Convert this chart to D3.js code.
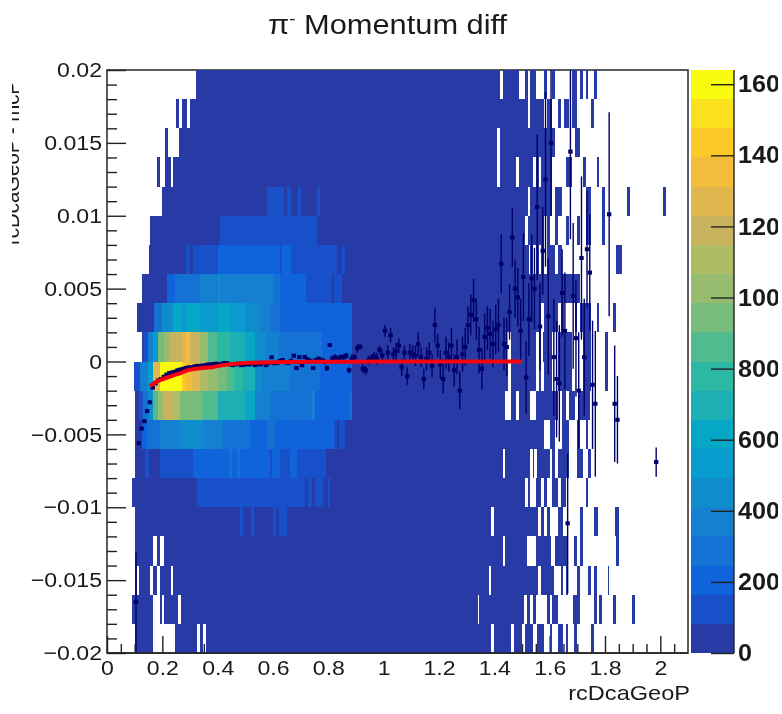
<!DOCTYPE html>
<html>
<head>
<meta charset="utf-8">
<script src="https://cdnjs.cloudflare.com/ajax/libs/d3/7.8.5/d3.min.js"></script>
<style>
  body { margin: 0; background: #fff; }
  text { font-family: "Liberation Sans", Arial, sans-serif; fill: #1a1a1a; }
</style>
</head>
<body>
<div id="chart"></div>
<script>
// tick values and labels
var xTicks = [0, 0.2, 0.4, 0.6, 0.8, 1, 1.2, 1.4, 1.6, 1.8, 2];
var xTickLabels = ["0", "0.2", "0.4", "0.6", "0.8", "1", "1.2", "1.4", "1.6", "1.8", "2"];
var xMinor = [0.05, 0.1, 0.15, 0.25, 0.3, 0.35, 0.45, 0.5, 0.55, 0.65, 0.7, 0.75, 0.85, 0.9, 0.95, 1.05, 1.1, 1.15, 1.25, 1.3, 1.35, 1.45, 1.5, 1.55, 1.65, 1.7, 1.75, 1.85, 1.9, 1.95, 2.05];
var yTicks = [0.02, 0.015, 0.01, 0.005, 0, -0.005, -0.01, -0.015, -0.02];
var yTickLabels = ["0.02", "0.015", "0.01", "0.005", "0", "\u22120.005", "\u22120.01", "\u22120.015", "\u22120.02"];
var yMinor = [0.019, 0.018, 0.017, 0.016, 0.014, 0.013, 0.012, 0.011, 0.009, 0.008, 0.007, 0.006, 0.004, 0.003, 0.002, 0.001,
  -0.001, -0.002, -0.003, -0.004, -0.006, -0.007, -0.008, -0.009, -0.011, -0.012, -0.013, -0.014, -0.016, -0.017, -0.018, -0.019];
var zTicks = [0, 200, 400, 600, 800, 1000, 1200, 1400, 1600];

// top edge of each y bin, row by row from the top
var rowTop = [0.02, 0.018, 0.016, 0.014, 0.012, 0.01, 0.008, 0.006, 0.004, 0.002, 0, -0.002, -0.004, -0.006, -0.008, -0.01, -0.012, -0.014, -0.016, -0.018];

// each row: [xStart, xEnd, count] runs, later runs paint over earlier ones
var row0 = [[0.32,1.42,40],[1.43,1.49,40],[1.51,1.52,40],[1.53,1.55,40],[1.58,1.59,40],[1.61,1.62,40],[1.68,1.70,40],[1.71,1.72,40],[1.73,1.74,40],[1.76,1.77,40]];
var row1 = [[0.25,0.26,40],[0.27,0.29,40],[0.30,1.52,40],[1.53,1.58,40],[1.59,1.61,40],[1.63,1.64,40],[1.65,1.67,40],[1.68,1.70,40],[1.75,1.76,40]];
var row2 = [[0.21,0.22,40],[0.26,1.41,40],[1.42,1.62,40],[1.69,1.71,40]];
var row3 = [[0.18,0.19,40],[0.21,0.23,40],[0.24,1.41,40],[1.42,1.48,40],[1.49,1.54,40],[1.55,1.56,40],[1.57,1.61,40],[1.66,1.68,40],[1.72,1.73,40],[1.77,1.78,40]];
var row4 = [[0.20,1.52,40],[1.53,1.61,40],[1.62,1.645,40],[1.73,1.75,40],[1.79,1.80,40],[1.88,1.89,40],[2.01,2.02,40],
  [0.58,0.64,120],[0.65,0.665,120],[0.69,0.70,120],[0.76,0.77,120]];
var row5 = [[0.155,1.51,40],[1.52,1.58,40],[1.59,1.60,40],[1.62,1.63,40],[1.66,1.67,40],[1.70,1.71,40],[1.73,1.75,40],[1.79,1.80,40],
  [0.41,0.76,120]];
var row6 = [[0.15,1.525,40],[1.53,1.54,40],[1.55,1.56,40],[1.57,1.58,40],[1.59,1.62,40],[1.63,1.645,40],[1.84,1.86,40],
  [0.285,0.30,120],[0.31,0.40,120],[0.40,0.625,205],[0.625,0.632,120],[0.632,0.665,205],[0.665,0.83,120],[0.85,0.86,120]];
var row7 = [[0.128,1.71,40],
  [0.216,0.246,205],[0.246,0.265,290],[0.265,0.336,290],[0.336,0.60,370],[0.40,0.41,450],[0.60,0.625,290],[0.625,0.72,205],[0.72,0.812,120],[0.82,0.85,120]];
var row8 = [[0.11,1.57,40],[1.58,1.63,40],[1.64,1.65,40],[1.69,1.70,40],[1.71,1.75,40],[1.77,1.78,40],[1.83,1.84,40],
  [0.17,0.198,290],[0.198,0.24,450],[0.24,0.27,615],[0.27,0.29,535],[0.29,0.336,615],[0.336,0.40,535],[0.40,0.445,615],[0.445,0.50,535],[0.50,0.553,450],[0.553,0.59,370],[0.59,0.625,290],[0.625,0.73,205],[0.73,0.885,205]];
var row9 = [[0.128,1.445,40],[1.46,1.55,40],[1.56,1.57,40],[1.575,1.61,40],[1.63,1.68,40],[1.72,1.75,40],[1.80,1.81,40],
  [0.129,0.149,120],[0.149,0.168,370],[0.168,0.186,535],[0.186,0.205,945],[0.205,0.228,1060],[0.228,0.27,1190],[0.27,0.286,1230],[0.286,0.30,1350],[0.30,0.336,1150],[0.336,0.366,1030],[0.366,0.397,860],[0.397,0.445,740],[0.445,0.50,700],[0.50,0.535,615],[0.535,0.571,450],[0.571,0.62,370],[0.62,0.776,290],[0.776,0.885,205]];
var row10 = [[0.10,1.45,40],[1.46,1.55,40],[1.56,1.57,40],[1.58,1.61,40],[1.63,1.68,40],[1.72,1.75,40],[1.80,1.81,40],
  [0.099,0.119,120],[0.119,0.149,370],[0.149,0.168,535],[0.168,0.192,1230],[0.192,0.27,1600],[0.27,0.282,1435],[0.282,0.306,1350],[0.306,0.336,1270],[0.336,0.366,1110],[0.366,0.40,1000],[0.40,0.433,945],[0.433,0.46,860],[0.46,0.493,780],[0.493,0.535,700],[0.535,0.56,450],[0.56,0.66,370],[0.66,0.77,290],[0.77,0.885,205]];
var row11 = [[0.10,1.44,40],[1.46,1.48,40],[1.49,1.53,40],[1.55,1.63,40],[1.645,1.66,40],[1.67,1.69,40],[1.705,1.745,40],
  [0.115,0.129,120],[0.129,0.149,290],[0.149,0.168,450],[0.168,0.185,860],[0.185,0.204,1025],[0.204,0.24,1190],[0.24,0.264,1110],[0.264,0.342,945],[0.342,0.40,820],[0.40,0.50,700],[0.50,0.535,615],[0.535,0.59,370],[0.59,0.74,290],[0.74,0.75,370],[0.75,0.873,205],[0.873,0.885,290]];
var row12 = [[0.10,1.58,40],[1.60,1.62,40],[1.645,1.67,40],[1.70,1.71,40],[1.73,1.74,40],
  [0.128,0.144,205],[0.144,0.19,290],[0.19,0.265,370],[0.265,0.35,450],[0.35,0.42,370],[0.42,0.517,290],[0.517,0.577,205],[0.577,0.607,290],[0.607,0.82,205],[0.82,0.83,120],[0.84,0.86,120]];
var row13 = [[0.10,1.43,40],[1.44,1.53,40],[1.54,1.545,40],[1.555,1.60,40],[1.61,1.62,40],[1.63,1.67,40],[1.70,1.72,40],[1.74,1.75,40],
  [0.137,0.15,120],[0.19,0.31,120],[0.31,0.59,205],[0.44,0.45,290],[0.47,0.48,290],[0.59,0.595,120],[0.595,0.625,205],[0.625,0.66,120],[0.66,0.685,205],[0.685,0.79,120]];
var row14 = [[0.09,1.51,40],[1.52,1.53,40],[1.55,1.57,40],[1.58,1.59,40],[1.61,1.63,40],[1.64,1.66,40],[1.73,1.74,40],
  [0.327,0.716,120],[0.728,0.74,120],[0.752,0.78,120],[0.798,0.807,120]];
var row15 = [[0.10,1.387,40],[1.397,1.557,40],[1.568,1.58,40],[1.59,1.60,40],[1.63,1.648,40],[1.71,1.72,40],[1.76,1.773,40],[1.837,1.85,40],
  [0.481,0.49,120],[0.52,0.53,120],[0.60,0.61,120],[0.622,0.65,120]];
var row16 = [[0.10,0.168,40],[0.18,0.19,40],[0.206,1.431,40],[1.437,1.517,40],[1.55,1.604,40],[1.62,1.668,40],[1.689,1.698,40],[1.71,1.72,40],[1.84,1.85,40]];
var row17 = [[0.10,0.11,40],[0.117,0.155,40],[0.168,0.18,40],[0.192,0.23,40],[0.24,1.381,40],[1.387,1.557,40],[1.568,1.617,40],[1.64,1.648,40],[1.66,1.668,40],[1.70,1.71,40],[1.74,1.75,40],[1.76,1.77,40],[1.81,1.815,40]];
var row18 = [[0.09,0.168,40],[0.192,0.20,40],[0.206,0.258,40],[0.268,1.34,40],[1.346,1.509,40],[1.517,1.53,40],[1.54,1.55,40],[1.59,1.60,40],[1.608,1.63,40],[1.686,1.708,40],[1.76,1.77,40],[1.78,1.79,40],[1.829,1.84,40],[1.897,1.907,40]];
var row19 = [[0.10,0.168,40],[0.246,0.327,40],[0.337,0.348,40],[0.358,1.387,40],[1.397,1.46,40],[1.472,1.50,40],[1.51,1.54,40],[1.556,1.58,40],[1.60,1.608,40],[1.63,1.648,40],[1.66,1.668,40],[1.689,1.698,40],[1.749,1.761,40]];

// profile points
var profX = [0.105,0.115,0.125,0.135,0.145,0.155,0.165,0.175,0.185,0.195,
  0.205,0.215,0.225,0.235,0.245,0.255,0.265,0.275,0.285,0.295,
  0.305,0.315,0.325,0.335,0.345,0.355,0.365,0.375,0.385,0.395,
  0.405,0.415,0.425,0.435,0.445,0.455,0.465,0.475,0.485,0.495,
  0.505,0.515,0.525,0.535,0.545,0.555,0.565,0.575,0.585,0.595,
  0.605,0.615,0.625,0.635,0.645,0.655,0.665,0.675,0.685,0.695,
  0.705,0.715,0.725,0.735,0.745,0.755,0.765,0.775,0.785,0.795,
  0.805,0.815,0.825,0.835,0.845,0.855,0.865,0.875,0.885,0.895,
  0.905,0.915,0.925,0.935,0.945,0.955,0.965,0.975,0.985,0.995,
  1.005,1.015,1.025,1.035,1.045,1.055,1.065,1.075,1.085,1.095,
  1.105,1.115,1.125,1.135,1.145,1.155,1.165,1.175,1.185,1.195,
  1.205,1.215,1.225,1.235,1.245,1.255,1.265,1.275,1.285,1.295,
  1.305,1.315,1.325,1.335,1.345,1.355,1.365,1.375,1.385,1.395,
  1.405,1.415,1.425,1.435,1.445,1.455,1.465,1.475,1.485,1.495,
  1.505,1.515,1.525,1.535,1.545,1.555,1.565,1.575,1.585,1.595,
  1.605,1.615,1.625,1.635,1.645,1.655,1.665,1.675,1.685,1.695,
  1.705,1.715,1.725,1.735,1.745,1.755,1.765,1.815,1.835,1.845,1.985];
var profMean = [-0.0165,-0.0056,-0.0046,-0.0041,-0.0034,-0.0028,-0.0018,-0.0015,-0.0013,-0.0012,
  -0.00105,-0.0009,-0.0008,-0.00075,-0.0007,-0.0006,-0.00055,-0.0005,-0.00045,-0.0004,
  -0.0004,-0.00035,-0.0003,-0.0003,-0.00028,-0.00025,-0.0002,-0.0002,-0.00018,-0.00015,
  -0.0002,-0.00015,-0.0001,-0.00012,-0.0002,-0.00025,-0.0002,-0.00015,-0.00025,-0.00022,
  -0.00018,-0.0002,-0.00012,-0.00025,-0.00015,-0.0002,-0.0001,-0.00025,-0.0001,0.00029,
  -0.00012,-0.0001,0.00005,0.0001,-0.00005,-0.0001,0.00005,0.0004,-0.00045,0.0003,
  -0.00026,0.0003,0.00015,0.00005,-0.00045,0.0001,0.0002,0.0001,0,-0.00045,
  0.00113,0.0002,0.0003,0.0002,0.0003,0.0003,0.0004,-0.0006,0.0002,0.0003,
  0.0009,0.001,-0.0005,-0.0006,0.0001,0.0002,0.00035,0.0002,0.0008,0.0004,
  0.0021,0.0006,0.0018,0.0005,0.0007,0.0011,-0.0004,0.0006,-0.001,0.0006,
  0.0005,0.0004,0.0012,0.0003,-0.0012,0.0002,0.0006,-0.0003,0.0025,0.0011,
  -0.0002,-0.0012,0.0006,0.0003,0.0011,-0.0006,0.0003,-0.002,0.0005,0.001,
  0.0025,0.0032,0.0042,0.0029,0.0008,-0.0005,0.0017,0.0023,0.0019,0.0012,
  0.0022,0.0025,0.0067,0.0012,0.001,0.0034,0.0085,0.005,0.0044,0.0021,
  0.0058,-0.0011,0.0029,0.0057,0.005,0.0106,0.0024,0.0076,0.0125,0.0031,
  0.015,0.0003,-0.0012,-0.0015,0.0047,0.0021,-0.0111,0.0144,0.0045,0.0016,
  -0.002,0.0071,0.0003,0.0077,0.0061,-0.0016,-0.0029,0.0101,-0.0029,-0.004,-0.0069];
var profErr = [0.0034,0.0001,0.0001,0.0001,0.0001,0.0001,0.0001,0.0001,0.0001,0.0001,
  0.0001,0.0001,0.0001,0.0001,0.0001,0.0001,0.0001,0.0001,0.0001,0.0001,
  0.0001,0.0001,0.0001,0.0001,0.0001,0.0001,0.0001,0.0001,0.0001,0.0001,
  0.0001,0.0001,0.0001,0.0001,0.0001,0.0001,0.0001,0.0001,0.0001,0.0001,
  0.0001,0.0001,0.0001,0.0001,0.0001,0.0001,0.0001,0.0001,0.0001,0.0001,
  0.0001,0.0001,0.0001,0.0001,0.0001,0.0001,0.0001,0.0001,0.0001,0.0001,
  0.0001,0.0001,0.0001,0.0001,0.0001,0.0001,0.0001,0.0001,0.0002,0.0002,
  0.0001,0.0002,0.0002,0.0002,0.0002,0.0002,0.0002,0.0002,0.0003,0.0002,
  0.0003,0.0002,0.0003,0.0003,0.0003,0.0003,0.0003,0.0004,0.0003,0.0004,
  0.0004,0.0005,0.0005,0.0005,0.0006,0.0005,0.0006,0.0005,0.0006,0.0006,
  0.0006,0.0007,0.0008,0.0007,0.0007,0.0008,0.0007,0.0008,0.0012,0.0008,
  0.001,0.001,0.0011,0.001,0.0012,0.0011,0.0012,0.0013,0.0012,0.0013,
  0.0013,0.0014,0.0015,0.0014,0.0016,0.0014,0.0016,0.0015,0.0017,0.0016,
  0.0017,0.0018,0.002,0.0018,0.002,0.0019,0.002,0.002,0.002,0.0022,
  0.003,0.0025,0.0025,0.003,0.0028,0.005,0.003,0.003,0.006,0.004,
  0.005,0.004,0.004,0.004,0.003,0.004,0.0048,0.006,0.005,0.004,
  0.004,0.0056,0.004,0.004,0.004,0.0044,0.005,0.007,0.004,0.003,0.001];

// fit curve
var fitX = [0.155,0.165,0.18,0.192,0.21,0.228,0.245,0.264,0.28,0.294,0.315,0.336,0.355,0.379,0.40,0.421,0.45,0.481,0.52,0.56,0.60,0.65,0.75,0.85,1,1.25,1.5];
var fitY = [-0.0017,-0.00155,-0.00138,-0.00127,-0.00115,-0.00104,-0.00092,-0.00081,-0.00068,-0.00058,-0.00052,-0.00047,-0.00043,-0.0004,-0.00032,-0.00024,-0.00018,-0.00012,-0.00009,-0.00007,-0.00005,-0.00003,-0.00002,-0.00001,0,0,0];

// colour levels of the palette, bottom to top
var palette = ["#283AA5","#1750C8","#0F64DC","#1372D4","#1580CF","#0E8CCB","#089BCE","#06A6C6","#1CB0B5","#2DB8A3",
  "#50BB8F","#77BC7B","#97BC6F","#B0BB66","#C9B35F","#E0B64F","#F3BC3A","#FDC928","#FBE01E","#F9FB0E"];

var width = 782, height = 714;
var plot = {left: 107, right: 688, top: 70, bottom: 653};
var bar = {left: 691, right: 734};
var stretch = 1.1; // text in the picture is a bit wider than tall

var x = d3.scaleLinear().domain([0, 2.1]).range([plot.left, plot.right]);
var y = d3.scaleLinear().domain([-0.02, 0.02]).range([plot.bottom, plot.top]);
var z = d3.scaleLinear().domain([0, 1640]).range([plot.bottom, plot.top]);
var color = d3.scaleQuantize().domain([0, 1640]).range(palette);

// the picture is soft, so the whole drawing gets a very light blur
var svg = d3.select("#chart").append("svg")
    .attr("width", width)
    .attr("height", height)
    .style("display", "block")
    .style("filter", "blur(0.45px)");

var defs = svg.append("defs");
defs.append("clipPath").attr("id", "clip-right")
  .append("rect").attr("x", 600).attr("y", 0).attr("width", 178).attr("height", height);
defs.append("clipPath").attr("id", "clip-left")
  .append("rect").attr("x", 12).attr("y", 0).attr("width", 30).attr("height", height);

// frame and axes go under the heat map, like in the original
svg.append("rect")
    .attr("x", plot.left).attr("y", plot.top)
    .attr("width", plot.right - plot.left).attr("height", plot.bottom - plot.top)
    .attr("fill", "#fff").attr("stroke", "#333").attr("stroke-width", 1.6);

var xAxis = svg.append("g")
    .attr("transform", "translate(0," + plot.bottom + ")")
    .call(d3.axisBottom(x).tickValues(xTicks).tickSize(-17).tickPadding(7)
      .tickFormat(function(d, i) { return xTickLabels[i]; }));
svg.append("g")
    .attr("transform", "translate(0," + plot.bottom + ")")
    .call(d3.axisBottom(x).tickValues(xMinor).tickSize(-9).tickFormat(""));

var yAxis = svg.append("g")
    .attr("transform", "translate(" + plot.left + ",0)")
    .call(d3.axisLeft(y).tickValues(yTicks).tickSize(-19).tickPadding(4)
      .tickFormat(function(d, i) { return yTickLabels[i]; }));
svg.append("g")
    .attr("transform", "translate(" + plot.left + ",0)")
    .call(d3.axisLeft(y).tickValues(yMinor).tickSize(-10).tickFormat(""));

svg.selectAll(".domain").remove();
svg.selectAll(".tick line").attr("stroke", "#222").attr("stroke-width", 1.4);

xAxis.selectAll("text").attr("font-size", 21)
    .attr("font-family", "Liberation Sans").attr("fill", "#1a1a1a")
    .attr("transform", "scale(" + stretch + ",1)");
yAxis.selectAll("text").attr("font-size", 21)
    .attr("font-family", "Liberation Sans").attr("fill", "#1a1a1a")
    .attr("x", -5 / stretch)
    .attr("transform", "scale(" + stretch + ",1)");

// heat map
var rows = [row0, row1, row2, row3, row4, row5, row6, row7, row8, row9, row10, row11, row12, row13, row14, row15, row16, row17, row18, row19];

svg.append("g")
    .attr("shape-rendering", "crispEdges")
  .selectAll("g")
    .data(rows)
  .enter().append("g")
    .each(function(cells, r) {
      d3.select(this).selectAll("rect")
          .data(cells)
        .enter().append("rect")
          .attr("x", function(d) { return x(d[0]); })
          .attr("width", function(d) { return x(d[1]) - x(d[0]); })
          .attr("y", y(rowTop[r]))
          .attr("height", y(rowTop[r] - 0.002) - y(rowTop[r]))
          .attr("fill", function(d) { return color(d[2]); });
    });

// bottom line stays visible over the cells
svg.append("line")
    .attr("x1", plot.left).attr("x2", plot.right)
    .attr("y1", plot.bottom).attr("y2", plot.bottom)
    .attr("stroke", "#222").attr("stroke-width", 1.6);

// profile with error bars
var profile = d3.range(profX.length);
var navy = "#00006b";

svg.append("g").selectAll("line")
    .data(profile)
  .enter().append("line")
    .attr("x1", function(i) { return x(profX[i]); })
    .attr("x2", function(i) { return x(profX[i]); })
    .attr("y1", function(i) { return y(Math.max(profMean[i] - profErr[i], -0.02)); })
    .attr("y2", function(i) { return y(Math.min(profMean[i] + profErr[i], 0.02)); })
    .attr("stroke", navy)
    .attr("stroke-width", 1.4);

svg.append("g").selectAll("rect")
    .data(profile)
  .enter().append("rect")
    .attr("x", function(i) { return x(profX[i]) - 2.2; })
    .attr("y", function(i) { return y(profMean[i]) - 2; })
    .attr("width", 4.4)
    .attr("height", 4)
    .attr("fill", navy);

// fit
var fitLine = d3.line()
    .x(function(d) { return x(d[0]); })
    .y(function(d) { return y(d[1]); });

svg.append("path")
    .datum(d3.zip(fitX, fitY))
    .attr("d", fitLine)
    .attr("fill", "none")
    .attr("stroke", "#f8000f")
    .attr("stroke-width", 4);

// palette bar
svg.append("g")
    .attr("shape-rendering", "crispEdges")
  .selectAll("rect")
    .data(palette)
  .enter().append("rect")
    .attr("x", bar.left)
    .attr("width", bar.right - bar.left)
    .attr("y", function(d, i) { return z((i + 1) * 82); })
    .attr("height", function(d, i) { return z(i * 82) - z((i + 1) * 82); })
    .attr("fill", function(d) { return d; });

var zAxis = svg.append("g")
    .attr("clip-path", "url(#clip-right)")
  .append("g")
    .attr("transform", "translate(" + bar.right + ",0)")
    .call(d3.axisRight(z).tickValues(zTicks).tickSize(-23).tickPadding(4).tickFormat(d3.format("d")));

zAxis.select(".domain").attr("d", "M0," + z(1640) + "V" + z(0)).attr("stroke", "#222").attr("stroke-width", 1.4);
zAxis.selectAll(".tick line").attr("stroke", "#222").attr("stroke-width", 1.4);
zAxis.selectAll("text").attr("font-size", 24).attr("font-weight", "bold")
    .attr("font-family", "Liberation Sans").attr("fill", "#111")
    .attr("x", 4 / 1.05)
    .attr("transform", "scale(1.05,1)");

// titles
var title = svg.append("text")
    .attr("transform", "translate(268,34) scale(" + stretch + ",1)")
    .attr("font-size", 28);
title.append("tspan").text("\u03c0");
title.append("tspan").attr("font-size", 17).attr("dy", -10).text("-");
title.append("tspan").attr("dy", 10).text(" Momentum diff");

svg.append("text")
    .attr("transform", "translate(690,700) scale(1.15,1)")
    .attr("text-anchor", "end")
    .attr("font-size", 20.5)
    .text("rcDcaGeoP");

svg.append("g")
    .attr("clip-path", "url(#clip-left)")
  .append("text")
    .attr("transform", "translate(19,245) rotate(-90)")
    .attr("font-size", 20.4)
    .text("rcDcaGeoP - mcP");
</script>
</body>
</html>
